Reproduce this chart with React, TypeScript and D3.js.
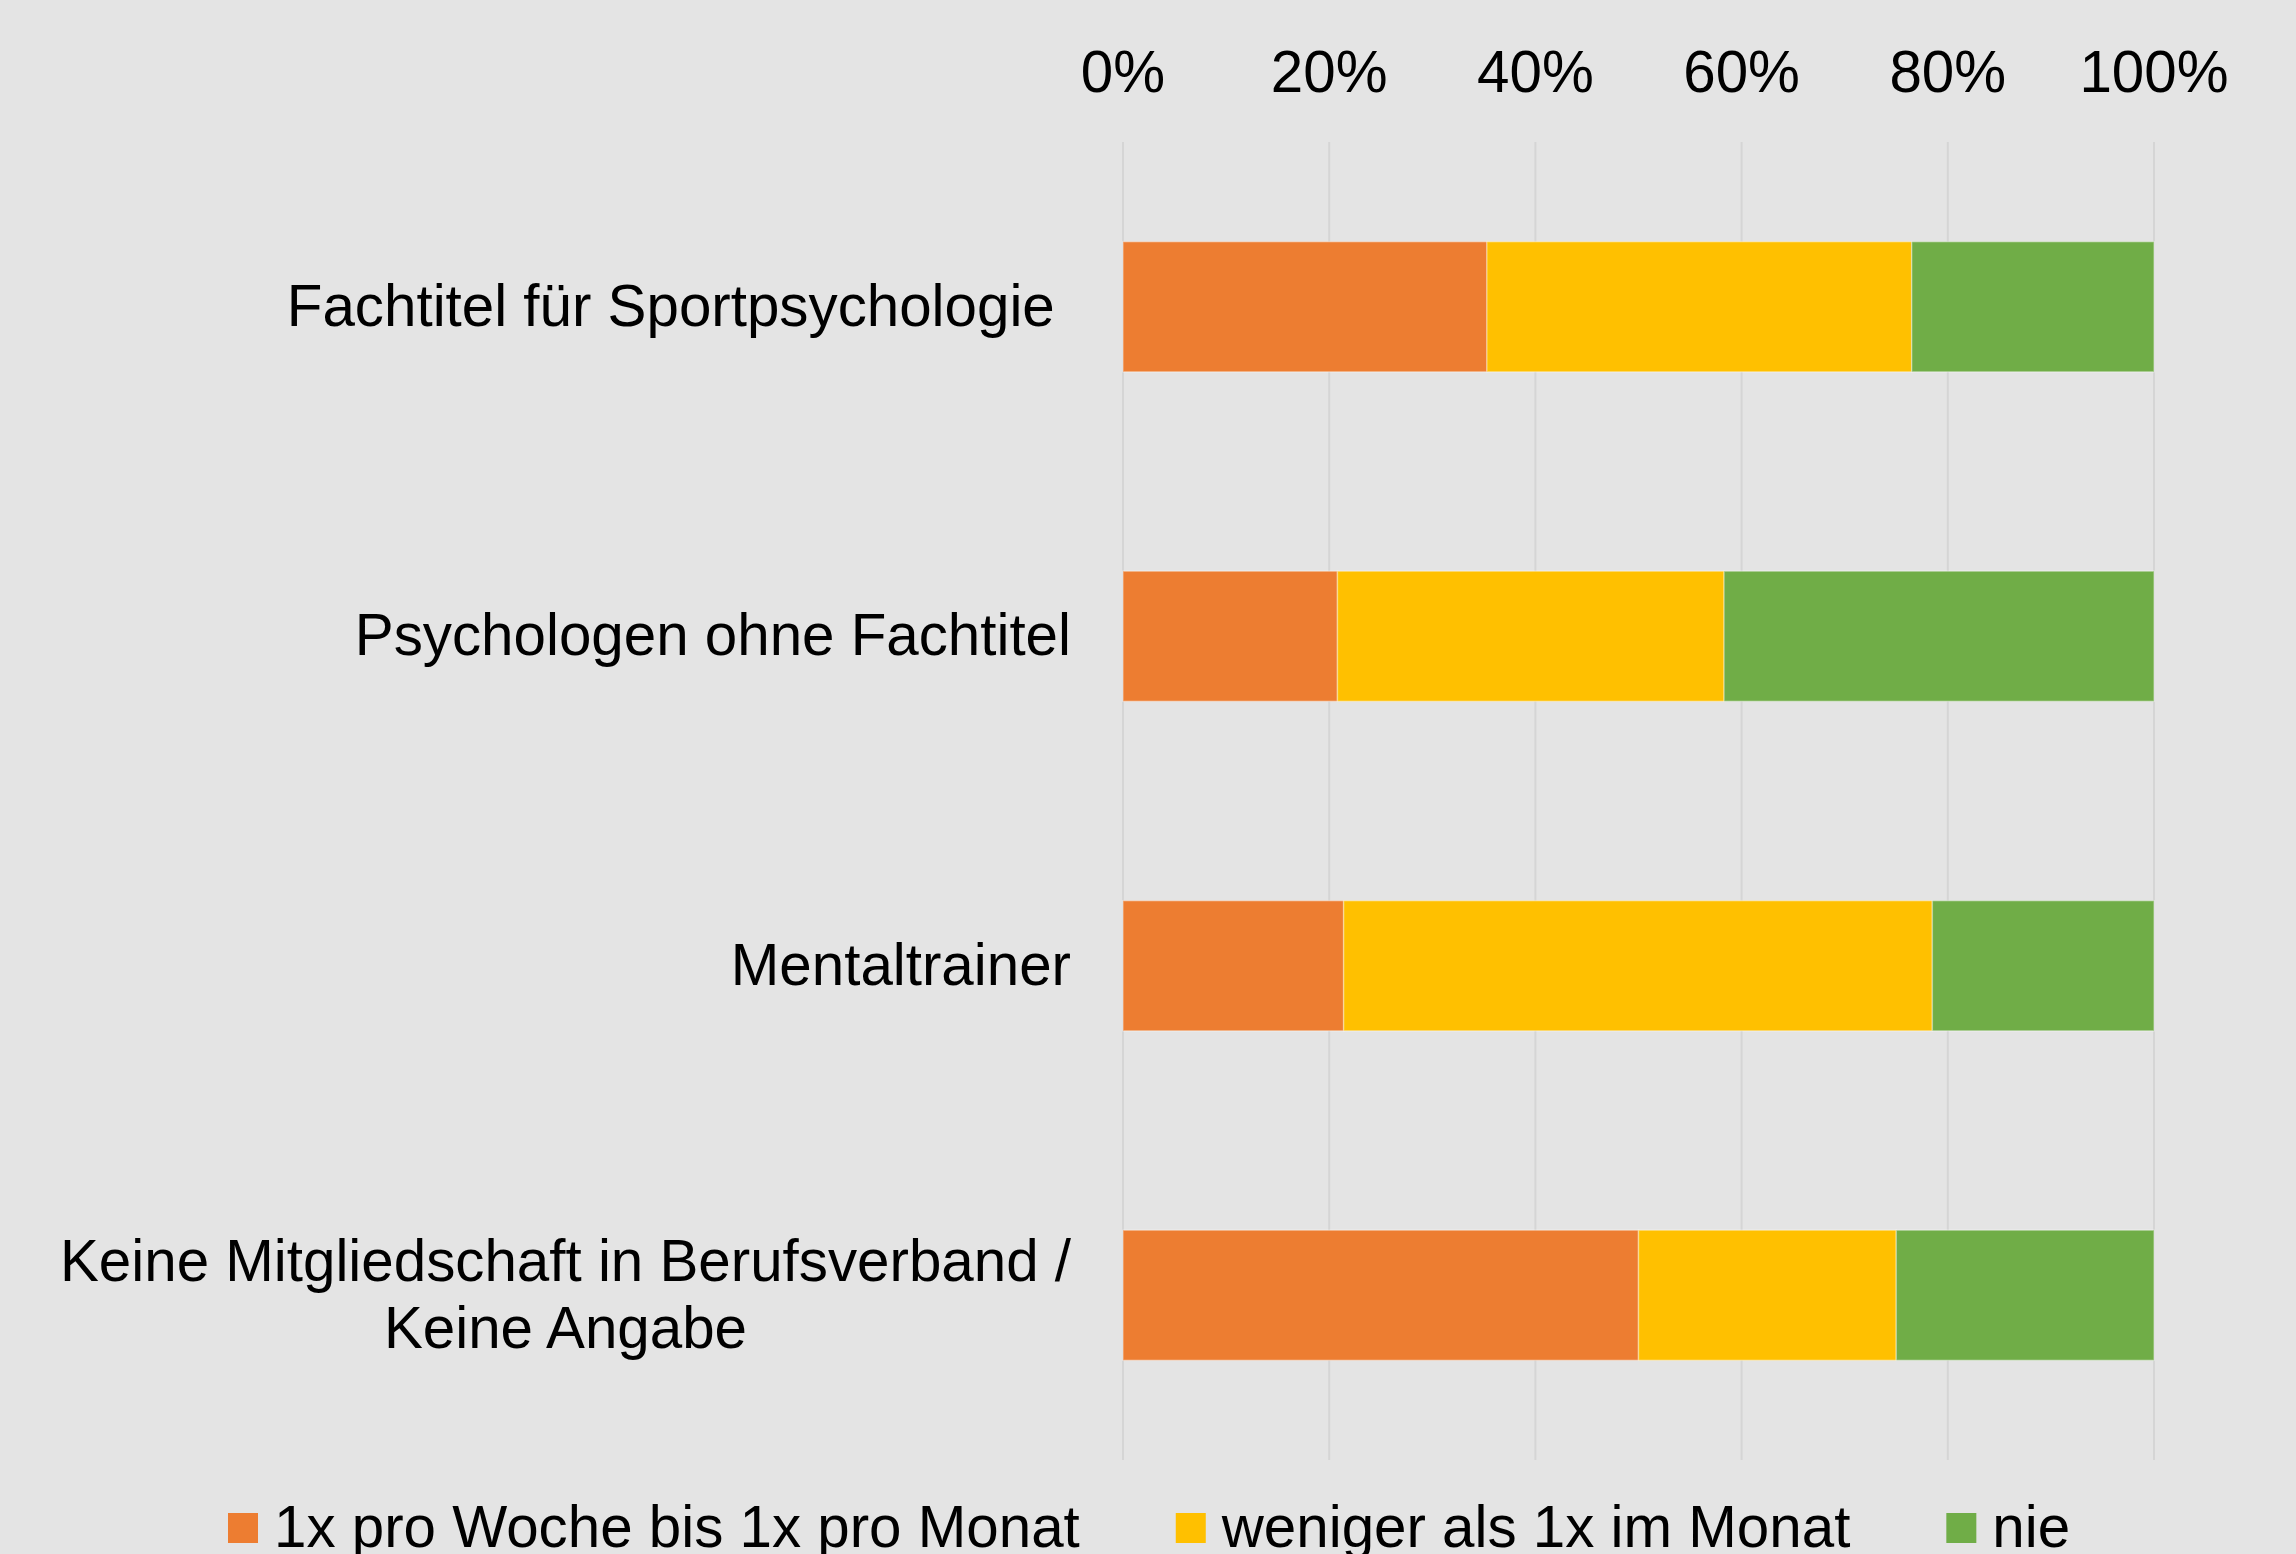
import React, { useMemo } from "react";
import * as d3 from "d3";

const categories = [
  "Fachtitel für Sportpsychologie",
  "Psychologen ohne Fachtitel",
  "Mentaltrainer",
  "Keine Mitgliedschaft in Berufsverband / Keine Angabe",
];
const categoryLines: string[][] = [
  ["Fachtitel für Sportpsychologie "],
  ["Psychologen ohne Fachtitel"],
  ["Mentaltrainer"],
  ["Keine Mitgliedschaft in Berufsverband /", "Keine Angabe"],
];
const seriesNames = ["1x pro Woche bis 1x pro Monat", "weniger als 1x im Monat", "nie"];
const weekly = [35.3, 20.8, 21.4, 50.0];
const lessMonthly = [41.2, 37.5, 57.1, 25.0];
const never = [23.5, 41.7, 21.5, 25.0];
const tickValues = [0, 20, 40, 60, 80, 100];
const colors = ["#ED7D31", "#FFC000", "#70AD47"];

const W = 2296;
const H = 1554;
const FONT = "'Liberation Sans', Arial, sans-serif";
const FS = 58.3;

function measure(text: string): number {
  if (typeof document === "undefined") return text.length * FS * 0.5;
  const c = document.createElement("canvas");
  const ctx = c.getContext("2d");
  if (!ctx) return text.length * FS * 0.5;
  ctx.font = `${FS}px 'Liberation Sans', Arial, sans-serif`;
  return ctx.measureText(text).width;
}

export default function App() {
  const x = d3.scaleLinear().domain([0, 100]).range([1123, 2154]);
  const y = d3
    .scaleBand<string>()
    .domain(categories)
    .range([142, 1460])
    .paddingInner(0.605)
    .paddingOuter(0.3025);

  const rows = categories.map((c, i) => ({
    cat: c,
    a: weekly[i],
    b: lessMonthly[i],
    c: never[i],
  }));
  const stacked = d3.stack<any>().keys(["a", "b", "c"])(rows);

  const labelRight = 1071;
  const lineGap = 67.5;

  const legend = useMemo(() => {
    let cx = 228;
    return seriesNames.map((n, i) => {
      const item = { x: cx, name: n, color: colors[i] };
      cx += 30 + 16 + measure(n) + 96;
      return item;
    });
  }, []);

  return (
    <svg
      width={W}
      height={H}
      style={{ position: "absolute", left: 0, top: 0, display: "block" }}
      fontFamily={FONT}
    >
      <rect x={0} y={0} width={W} height={H} fill="#E4E4E4" />
      {tickValues.map((t) => (
        <g key={t}>
          <line
            x1={x(t)}
            x2={x(t)}
            y1={142}
            y2={1460}
            stroke="#D5D5D5"
            strokeWidth={2}
          />
          <text
            x={x(t)}
            y={92}
            textAnchor="middle"
            fontSize={FS}
            fill="#000"
          >
            {t}%
          </text>
        </g>
      ))}
      {stacked.map((s, si) =>
        s.map((d, i) => (
          <rect
            key={`${si}-${i}`}
            x={x(d[0])}
            y={y(categories[i])!}
            width={x(d[1]) - x(d[0])}
            height={y.bandwidth()}
            fill={colors[si]}
            stroke="rgba(255,255,255,0.35)"
            strokeWidth={1.5}
          />
        ))
      )}
      {categories.map((c, i) => {
        const lines = categoryLines[i];
        const center = y(c)! + y.bandwidth() / 2;
        const first = center + 19 - ((lines.length - 1) * lineGap) / 2;
        if (lines.length === 1) {
          return (
            <text
              key={c}
              x={labelRight}
              y={first}
              textAnchor="end"
              fontSize={FS}
              fill="#000"
              style={{ whiteSpace: "pre" }}
            >
              {lines[0]}
            </text>
          );
        }
        const maxW = Math.max(...lines.map(measure));
        const mid = labelRight - maxW / 2;
        return (
          <text key={c} fontSize={FS} fill="#000" textAnchor="middle">
            {lines.map((l, li) => (
              <tspan key={li} x={mid} y={first + li * lineGap}>
                {l}
              </tspan>
            ))}
          </text>
        );
      })}
      {legend.map((l) => (
        <g key={l.name}>
          <rect x={l.x} y={1513} width={30} height={30} fill={l.color} />
          <text x={l.x + 46} y={1547} fontSize={FS} fill="#000">
            {l.name}
          </text>
        </g>
      ))}
    </svg>
  );
}
